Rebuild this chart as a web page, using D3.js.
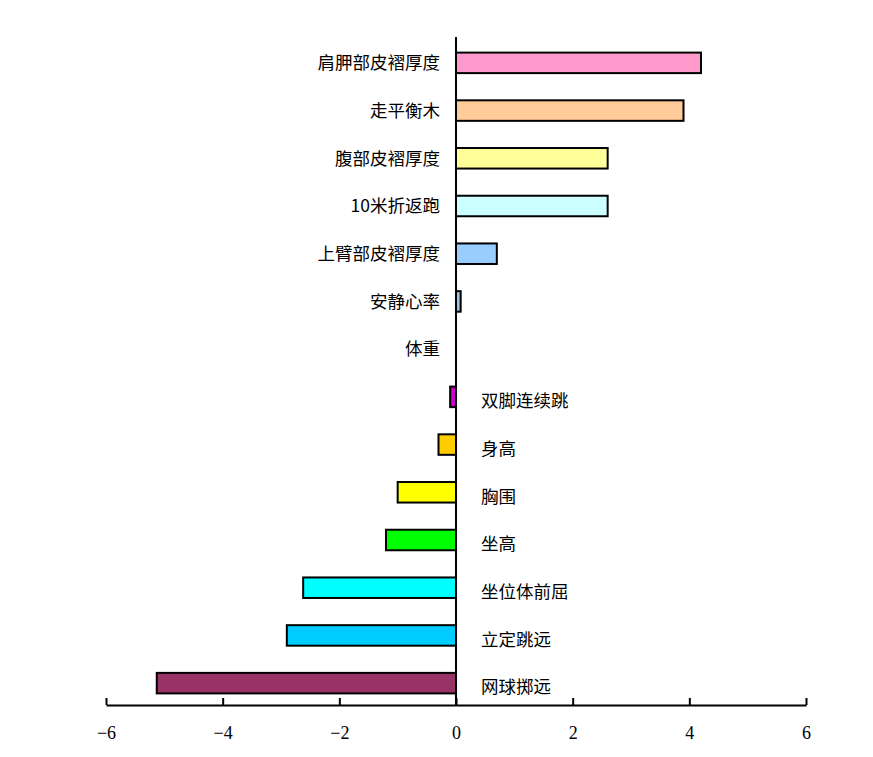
<!DOCTYPE html>
<html>
<head>
<meta charset="utf-8">
<script src="https://cdn.jsdelivr.net/npm/d3@7"></script>
<style>
  body { margin: 0; background: #fff; }
</style>
</head>
<body>
<div id="chart"></div>
<script>
// Data, top to bottom
var categories = ["肩胛部皮褶厚度", "走平衡木", "腹部皮褶厚度", "10米折返跑", "上臂部皮褶厚度",
  "安静心率", "体重", "双脚连续跳", "身高", "胸围", "坐高", "坐位体前屈", "立定跳远", "网球掷远"];
var values = [4.2, 3.9, 2.6, 2.6, 0.7, 0.08, 0, -0.1, -0.3, -1.0, -1.2, -2.62, -2.9, -5.13];
var colors = ["#FF99CC", "#FFCC99", "#FFFF99", "#CCFFFF", "#99CCFF", "#9DC3E6", "#FFFFFF",
  "#CC00CC", "#FFCC00", "#FFFF00", "#00FF00", "#00FFFF", "#00CCFF", "#993366"];
var xTicks = [-6, -4, -2, 0, 2, 4, 6];

var width = 873, height = 757;
var axisTop = 37, axisBottom = 705;

var svg = d3.select("#chart")
  .append("svg")
    .attr("width", width)
    .attr("height", height);

// Scales
var x = d3.scaleLinear()
  .domain([-6, 6])
  .range([106, 806]);

var y = d3.scaleBand()
  .domain(categories)
  .range([axisTop + 2, axisBottom + 2])
  .paddingInner(0.57)
  .paddingOuter(0.285);

var data = categories.map(function (c, i) {
  return { name: c, value: values[i], color: colors[i] };
});

// Bars
svg.selectAll("rect.bar")
  .data(data.filter(function (d) { return d.value !== 0; }))
  .enter()
  .append("rect")
    .attr("class", "bar")
    .attr("x", function (d) { return x(Math.min(0, d.value)); })
    .attr("y", function (d) { return y(d.name); })
    .attr("width", function (d) { return Math.abs(x(d.value) - x(0)); })
    .attr("height", y.bandwidth())
    .style("fill", function (d) { return d.color; })
    .style("stroke", "#000")
    .style("stroke-width", 2);

// X axis with inward ticks
var xAxis = svg.append("g")
  .attr("transform", "translate(0," + axisBottom + ")")
  .call(d3.axisBottom(x)
    .tickValues(xTicks)
    .tickSize(0)
    .tickPadding(21)
    .tickFormat(function (d) { return d < 0 ? "\u2212" + Math.abs(d) : d; }));
xAxis.select(".domain").attr("stroke", "#000").attr("stroke-width", 2);
xAxis.selectAll(".tick line").remove();
xAxis.selectAll(".tick").append("line")
  .attr("y1", 0).attr("y2", -7)
  .attr("stroke", "#000").attr("stroke-width", 2);
xAxis.selectAll(".tick text")
  .style("font-family", "'Liberation Serif', 'DejaVu Serif', serif")
  .style("font-size", "18px")
  .style("fill", "#000");

// Y axis line at zero
svg.append("line")
  .attr("x1", x(0)).attr("x2", x(0))
  .attr("y1", axisTop).attr("y2", axisBottom)
  .attr("stroke", "#000")
  .attr("stroke-width", 2);

// Category labels: left of axis for positive, right for negative
svg.selectAll("text.label")
  .data(data)
  .enter()
  .append("text")
    .attr("class", "label")
    .attr("x", function (d) { return d.value < 0 ? x(0) + 25 : x(0) - 16; })
    .attr("y", function (d) { return y(d.name) + y.bandwidth() / 2 + (d.value < 0 ? 4 : 0); })
    .attr("dy", "0.36em")
    .attr("text-anchor", function (d) { return d.value < 0 ? "start" : "end"; })
    .style("font-family", "'Noto Sans CJK SC', sans-serif")
    .style("font-size", "17.5px")
    .style("fill", "#000")
    .text(function (d) { return d.name; });
</script>
</body>
</html>
